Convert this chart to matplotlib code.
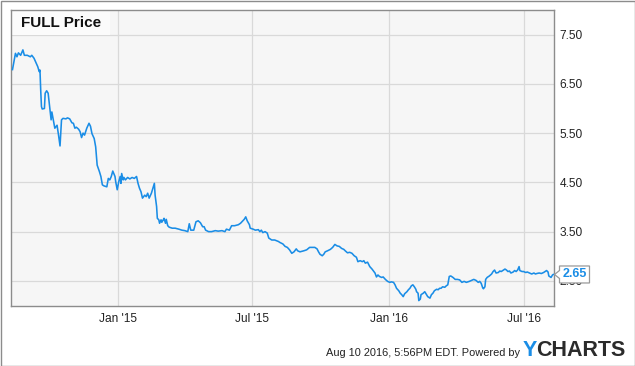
import pandas as pd
import matplotlib
matplotlib.use("Agg")
import matplotlib.pyplot as plt
import matplotlib.dates as mdates
from matplotlib.patches import Rectangle, Polygon

# FULL daily closing price
dates = [
    "2014-08-12", "2014-08-16", "2014-08-18", "2014-08-20", "2014-08-23", "2014-08-26", "2014-08-28",
    "2014-09-01", "2014-09-05", "2014-09-07", "2014-09-10", "2014-09-15", "2014-09-17", "2014-09-18",
    "2014-09-19", "2014-09-20", "2014-09-21", "2014-09-24", "2014-09-25", "2014-09-27", "2014-09-29",
    "2014-10-01", "2014-10-03", "2014-10-04", "2014-10-06", "2014-10-08", "2014-10-11", "2014-10-13",
    "2014-10-15", "2014-10-17", "2014-10-19", "2014-10-23", "2014-10-25", "2014-10-28", "2014-10-31",
    "2014-11-02", "2014-11-04", "2014-11-06", "2014-11-09", "2014-11-11", "2014-11-13", "2014-11-15",
    "2014-11-17", "2014-11-20", "2014-11-23", "2014-11-25", "2014-11-27", "2014-11-30",
    "2014-12-02", "2014-12-04", "2014-12-07", "2014-12-09", "2014-12-11", "2014-12-13", "2014-12-17",
    "2014-12-19", "2014-12-21", "2014-12-23", "2014-12-25", "2014-12-28", "2014-12-29", "2014-12-31",
    "2015-01-02", "2015-01-04", "2015-01-05", "2015-01-06", "2015-01-08", "2015-01-09", "2015-01-11",
    "2015-01-14", "2015-01-17", "2015-01-20", "2015-01-23", "2015-01-26", "2015-01-28", "2015-01-30",
    "2015-02-01", "2015-02-03", "2015-02-06", "2015-02-08", "2015-02-10", "2015-02-12", "2015-02-15",
    "2015-02-17", "2015-02-19", "2015-02-20", "2015-02-22", "2015-02-23", "2015-02-25", "2015-02-26",
    "2015-02-28",
    "2015-03-01", "2015-03-03", "2015-03-04", "2015-03-06", "2015-03-07", "2015-03-09", "2015-03-11",
    "2015-03-15", "2015-03-19", "2015-03-24", "2015-03-28",
    "2015-04-01", "2015-04-05", "2015-04-07", "2015-04-09", "2015-04-13", "2015-04-16", "2015-04-19",
    "2015-04-22", "2015-04-25", "2015-04-27", "2015-04-29",
    "2015-05-03", "2015-05-07", "2015-05-12", "2015-05-16", "2015-05-21", "2015-05-25", "2015-05-27",
    "2015-05-31",
    "2015-06-03", "2015-06-07", "2015-06-12", "2015-06-15", "2015-06-18", "2015-06-20", "2015-06-22",
    "2015-06-24", "2015-06-27", "2015-06-28",
    "2015-07-02", "2015-07-05", "2015-07-09", "2015-07-11", "2015-07-13", "2015-07-15", "2015-07-18",
    "2015-07-21", "2015-07-23", "2015-07-27", "2015-07-31",
    "2015-08-05", "2015-08-07", "2015-08-11", "2015-08-14", "2015-08-17", "2015-08-20", "2015-08-23",
    "2015-08-26", "2015-08-29", "2015-08-31",
    "2015-09-03", "2015-09-08", "2015-09-12", "2015-09-16", "2015-09-19", "2015-09-23", "2015-09-26",
    "2015-09-28", "2015-09-30",
    "2015-10-03", "2015-10-05", "2015-10-07", "2015-10-10", "2015-10-14", "2015-10-17", "2015-10-20",
    "2015-10-23", "2015-10-26", "2015-10-29",
    "2015-11-01", "2015-11-03", "2015-11-06", "2015-11-09", "2015-11-12", "2015-11-15", "2015-11-18",
    "2015-11-20", "2015-11-23", "2015-11-26", "2015-11-28", "2015-11-30",
    "2015-12-03", "2015-12-06", "2015-12-09", "2015-12-13", "2015-12-15", "2015-12-17", "2015-12-19",
    "2015-12-22", "2015-12-24", "2015-12-27", "2015-12-30",
    "2016-01-02", "2016-01-04", "2016-01-07", "2016-01-09", "2016-01-11", "2016-01-14", "2016-01-16",
    "2016-01-18", "2016-01-20", "2016-01-22", "2016-01-25", "2016-01-27", "2016-01-29", "2016-01-31",
    "2016-02-02", "2016-02-04", "2016-02-06", "2016-02-07", "2016-02-09", "2016-02-10", "2016-02-12",
    "2016-02-13", "2016-02-16", "2016-02-18", "2016-02-20", "2016-02-22", "2016-02-25", "2016-02-27",
    "2016-02-29",
    "2016-03-02", "2016-03-05", "2016-03-07", "2016-03-09", "2016-03-11", "2016-03-13", "2016-03-16",
    "2016-03-18", "2016-03-20", "2016-03-22", "2016-03-24", "2016-03-27", "2016-03-30",
    "2016-04-02", "2016-04-05", "2016-04-08", "2016-04-11", "2016-04-14", "2016-04-18", "2016-04-21",
    "2016-04-24", "2016-04-27", "2016-04-30",
    "2016-05-02", "2016-05-04", "2016-05-06", "2016-05-07", "2016-05-09", "2016-05-10", "2016-05-12",
    "2016-05-15", "2016-05-18", "2016-05-20", "2016-05-22", "2016-05-24", "2016-05-27", "2016-05-29",
    "2016-05-31",
    "2016-06-02", "2016-06-05", "2016-06-07", "2016-06-09", "2016-06-11", "2016-06-13", "2016-06-16",
    "2016-06-18", "2016-06-20", "2016-06-22", "2016-06-24", "2016-06-25", "2016-06-28", "2016-06-30",
    "2016-07-03", "2016-07-05", "2016-07-08", "2016-07-11", "2016-07-14", "2016-07-16", "2016-07-18",
    "2016-07-21", "2016-07-24", "2016-07-27", "2016-07-30", "2016-07-31",
    "2016-08-02", "2016-08-03", "2016-08-06", "2016-08-08", "2016-08-09",
]

prices = [
    6.79, 7.12, 7.05, 7.13, 7.08, 7.19, 7.08,
    7.08, 7.05, 7.08, 7.02, 6.85, 6.75, 6.78,
    6.37, 6.04, 5.99, 6.00, 6.31, 6.36, 6.31,
    6.04, 5.77, 5.93, 5.77, 5.60, 5.66, 5.46,
    5.24, 5.77, 5.80, 5.79, 5.81, 5.79, 5.71,
    5.70, 5.60, 5.62, 5.58, 5.53, 5.41, 5.50,
    5.46, 5.60, 5.70, 5.64, 5.49, 5.39,
    5.22, 4.85, 4.72, 4.62, 4.45, 4.43, 4.41,
    4.58, 4.55, 4.62, 4.73, 4.62, 4.51, 4.35,
    4.51, 4.62, 4.48, 4.68, 4.55, 4.60, 4.55,
    4.60, 4.57, 4.60, 4.58, 4.62, 4.48, 4.38,
    4.31, 4.18, 4.24, 4.21, 4.28, 4.18, 4.28,
    4.38, 4.48, 4.24, 4.01, 3.77, 3.74, 3.67,
    3.74,
    3.69, 3.74, 3.77, 3.67, 3.75, 3.62, 3.59,
    3.57, 3.57, 3.55, 3.53,
    3.52, 3.50, 3.66, 3.53, 3.53, 3.70, 3.72,
    3.68, 3.60, 3.60, 3.53,
    3.50, 3.50, 3.52, 3.51, 3.52, 3.50, 3.55,
    3.53,
    3.62, 3.62, 3.64, 3.67, 3.72, 3.75, 3.80,
    3.72, 3.64, 3.57,
    3.55, 3.53, 3.54, 3.50, 3.53, 3.48, 3.50,
    3.47, 3.37, 3.33, 3.33,
    3.30, 3.28, 3.25, 3.20, 3.18, 3.13, 3.06,
    3.09, 3.15, 3.11,
    3.09, 3.11, 3.13, 3.18, 3.18, 3.18, 3.15,
    3.09, 3.04,
    3.01, 3.04, 3.09, 3.11, 3.14, 3.18, 3.24,
    3.21, 3.20, 3.16,
    3.14, 3.11, 3.07, 3.08, 3.06, 3.01, 2.98,
    2.89, 2.91, 2.89, 2.91, 2.86,
    2.88, 2.79, 2.74, 2.66, 2.58, 2.62, 2.59,
    2.57, 2.58, 2.53, 2.49,
    2.47, 2.48, 2.47, 2.42, 2.35, 2.30, 2.25,
    2.22, 2.18, 2.24, 2.28, 2.32, 2.35, 2.40,
    2.42, 2.38, 2.33, 2.28, 2.25, 2.10, 2.13,
    2.22, 2.25, 2.28, 2.23, 2.18, 2.15, 2.22,
    2.25,
    2.30, 2.33, 2.32, 2.35, 2.35, 2.38, 2.37,
    2.40, 2.42, 2.59, 2.60, 2.57, 2.53,
    2.53, 2.52, 2.47, 2.49, 2.47, 2.49, 2.51,
    2.53, 2.51, 2.47,
    2.49, 2.45, 2.36, 2.34, 2.38, 2.53, 2.57,
    2.60, 2.64, 2.69, 2.72, 2.66, 2.67, 2.70,
    2.69,
    2.71, 2.74, 2.72, 2.69, 2.70, 2.66, 2.68,
    2.71, 2.69, 2.72, 2.79, 2.71, 2.69, 2.69,
    2.67, 2.68, 2.66, 2.64, 2.66, 2.64, 2.65,
    2.66, 2.65, 2.67, 2.70, 2.71,
    2.68, 2.60, 2.57, 2.62, 2.63,
]

last_price = 2.65
y_ticks = [2.5, 3.5, 4.5, 5.5, 6.5, 7.5]
x_ticks = ["2015-01-01", "2015-07-01", "2016-01-01", "2016-07-01"]
x_tick_labels = ["Jan '15", "Jul '15", "Jan '16", "Jul '16"]
x_range = ["2014-08-10", "2016-08-10"]

plt.rcParams["font.family"] = ["Liberation Sans", "DejaVu Sans"]

line_color = "#1a8de6"
W, H = 635, 366

s = pd.Series(prices, index=pd.to_datetime(dates))

fig = plt.figure(figsize=(W / 100, H / 100), dpi=100)
fig.patch.set_facecolor("white")
ax = fig.add_axes([11 / W, 60 / H, 543 / W, 296 / H])
ax.set_facecolor("#f6f6f6")

ax.plot(s.index, s.values, color=line_color, linewidth=1.15, zorder=3)

ax.set_xlim(pd.to_datetime(x_range[0]), pd.to_datetime(x_range[1]))
ax.set_ylim(1.99, 8.0)
ax.set_xticks(pd.to_datetime(x_ticks))
ax.set_xticklabels(x_tick_labels)
ax.set_yticks(y_ticks)
ax.set_yticklabels([f"{v:.2f}" for v in y_ticks])
ax.yaxis.tick_right()

ax.grid(True, color="#d9d9d9", linewidth=0.9, zorder=0)
ax.set_axisbelow(True)
ax.tick_params(axis="both", length=0, labelsize=8.6, labelcolor="#222222")
ax.tick_params(axis="x", pad=5)
ax.tick_params(axis="y", pad=4)
for sp in ax.spines.values():
    sp.set_color("#8c8c8c")
    sp.set_linewidth(1.0)

# title box
ax.add_patch(Rectangle((0, (306 - 35) / 296), 99 / 543, 25 / 296, transform=ax.transAxes,
                       facecolor="#fbfbfb", edgecolor="none", zorder=2))
ax.text(10 / 543, (306 - 23) / 296, "FULL Price", transform=ax.transAxes,
        fontsize=11, fontweight="bold", color="#111111", va="center", ha="left", zorder=4)

# last price flag
fig.canvas.draw()
px, py = ax.transData.transform((mdates.date2num(pd.to_datetime(x_range[1])), s.values[-1]))
px = 554.5
pts = [(px, py), (px + 5, py + 4), (px + 5, py + 8.5), (px + 35, py + 8.5),
       (px + 35, py - 8.5), (px + 5, py - 8.5), (px + 5, py - 4)]
pts = [(a / W, b / H) for a, b in pts]
fig.patches.append(Polygon(pts, closed=True, transform=fig.transFigure, facecolor="white",
                           edgecolor="#999999", linewidth=0.9, zorder=5))
fig.text((px + 20.5) / W, py / H, f"{last_price:.2f}", color=line_color, fontsize=9,
         fontweight="bold", ha="center", va="center", zorder=6)

# footer
fig.text(520 / W, 9.5 / H, "Aug 10 2016, 5:56PM EDT. Powered by", fontsize=7.9,
         color="#222222", ha="right", va="baseline")
fig.text(522.5 / W, 9.5 / H, "Y", fontsize=15.5, fontweight="bold", color="#1a8de6",
         ha="left", va="baseline")
fig.text(536.5 / W, 9.5 / H, "CHARTS", fontsize=15.5, fontweight="bold", color="#2b2b2b",
         ha="left", va="baseline")

# outer frame
fig.patches.append(Rectangle((0.5 / W, 0.5 / H), (W - 1) / W, (H - 1) / H, transform=fig.transFigure,
                             fill=False, edgecolor="#8c8c8c", linewidth=1.0))

fig.savefig("out.png", dpi=100)
